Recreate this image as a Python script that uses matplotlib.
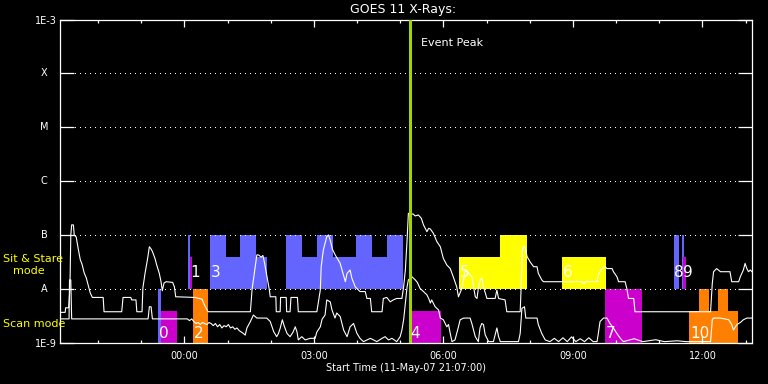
import numpy as np
import matplotlib
matplotlib.use("Agg")
from matplotlib import pyplot as plt
from matplotlib import ticker

# time axis is hours after the start time 11-May-07 21:07:00
start_label = 'Start Time (11-May-07 21:07:00)'
title = 'GOES 11 X-Rays:'
first_midnight = 3 - 7/60.0
clock_labels = ['00:00', '03:00', '06:00', '09:00', '12:00']

# long channel (upper white curve), W/m^2
long_t = np.array([0.00, 0.12, 0.13, 0.20, 0.23, 0.25, 0.27, 0.31, 0.33, 0.375,
                   0.42, 0.47, 0.51, 0.56, 0.61, 0.65, 0.70, 0.75, 1.00, 1.02,
                   1.43, 1.46, 1.64, 1.66, 1.76, 1.78, 1.90, 1.92, 1.97, 2.03,
                   2.07, 2.10, 2.14, 2.20, 2.24, 2.30, 2.34, 2.37, 2.41, 2.46,
                   2.61, 2.65, 2.68, 3.13, 3.29, 3.35, 3.43, 4.41, 4.45, 4.56,
                   4.60, 4.66, 4.70, 4.74, 4.80, 4.85, 4.87, 5.00, 5.01, 5.10,
                   5.11, 5.24, 5.25, 5.33, 5.35, 5.50, 5.52, 5.95, 6.03, 6.05,
                   6.10, 6.18, 6.22, 6.26, 6.31, 6.375, 6.49, 6.61, 6.65, 6.72,
                   6.76, 6.84, 6.95, 7.07, 7.11, 7.19, 7.22, 7.46, 7.49, 7.57,
                   7.65, 7.72, 7.80, 7.92, 7.96, 8.00, 8.04, 8.07, 8.11, 8.18,
                   8.23, 8.30, 8.37, 8.42, 8.50, 8.54, 8.58, 8.65, 8.73, 8.81,
                   8.88, 8.96, 9.04, 9.12, 9.19, 9.23, 9.31, 9.39, 9.46, 9.54,
                   9.62, 9.66, 9.69, 9.73, 9.77, 9.81, 9.89, 10.08, 10.12, 10.16,
                   10.31, 10.35, 10.66, 10.68, 10.71, 10.74, 10.78, 10.82, 10.89, 10.97,
                   11.05, 11.08, 11.16, 11.20, 12.09, 12.13, 12.17, 12.44, 12.47, 12.55,
                   12.63, 12.67, 12.79, 12.82, 12.90, 12.94, 13.09, 13.13, 13.17, 13.29,
                   13.32, 15.07, 15.11, 15.14, 15.21, 15.25, 15.30, 15.52, 15.56, 15.72,
                   15.76, 15.83, 15.87, 15.91, 15.95, 15.99, 16.03])
long_flux = np.array([3.7e-9, 3.7e-9, 4.5e-9, 4.5e-9, 1.0e-8, 1.0e-7, 1.55e-7, 1.55e-7, 1.0e-7, 9.3e-8,
                      5.7e-8, 3.5e-8, 2.9e-8, 2.0e-8, 1.6e-8, 1.2e-8, 8.5e-9, 7.0e-9, 7.0e-9, 3.8e-9,
                      3.8e-9, 7.0e-9, 7.0e-9, 6.3e-9, 6.3e-9, 3.8e-9, 3.8e-9, 1.05e-8, 1.96e-8, 3.7e-8,
                      6.1e-8, 5.7e-8, 5.0e-8, 3.7e-8, 2.8e-8, 1.96e-8, 1.37e-8, 9.3e-9, 1.3e-8, 1.37e-8,
                      1.33e-8, 1.1e-8, 7.2e-9, 7.0e-9, 6.5e-9, 5.0e-9, 3.8e-9, 3.8e-9, 1.0e-8, 4.3e-8,
                      4.3e-8, 3.9e-8, 4.2e-8, 3.0e-8, 1.6e-8, 9.6e-9, 7.2e-9, 7.2e-9, 3.8e-9, 3.8e-9,
                      7.0e-9, 7.0e-9, 3.8e-9, 3.8e-9, 7.0e-9, 7.0e-9, 3.8e-9, 3.8e-9, 9.6e-9, 2.6e-8,
                      5.3e-8, 9.4e-8, 1.01e-7, 8.1e-8, 5.5e-8, 4.3e-8, 3.0e-8, 1.37e-8, 1.96e-8, 2.26e-8,
                      1.6e-8, 1.1e-8, 9.0e-9, 9.0e-9, 6.7e-9, 6.7e-9, 3.8e-9, 3.8e-9, 6.7e-9, 7.0e-9,
                      5.8e-9, 6.3e-9, 6.7e-9, 6.7e-9, 1.1e-8, 2.26e-8, 8.1e-8, 2.55e-7, 2.47e-7, 2.47e-7,
                      2.27e-7, 2.37e-7, 2.06e-7, 1.55e-7, 1.16e-7, 1.34e-7, 1.3e-7, 1.08e-7, 7.6e-8, 6.1e-8,
                      3.7e-8, 2.8e-8, 2.4e-8, 1.6e-8, 1.1e-8, 7.2e-9, 1.03e-8, 2.26e-8, 2.0e-8, 1.7e-8,
                      7.2e-9, 6.7e-9, 1.03e-8, 1.48e-8, 1.6e-8, 1.1e-8, 6.7e-9, 6.7e-9, 9.6e-9, 6.7e-9,
                      6.3e-9, 3.8e-9, 3.8e-9, 9.6e-9, 5.3e-8, 6.3e-8, 5.7e-8, 4.0e-8, 3.2e-8, 2.6e-8,
                      2.6e-8, 1.96e-8, 1.48e-8, 1.37e-8, 1.37e-8, 1.25e-8, 1.37e-8, 1.37e-8, 1.83e-8, 2.4e-8,
                      2.6e-8, 2.4e-8, 2.4e-8, 2.1e-8, 1.7e-8, 1.37e-8, 1.37e-8, 1.03e-8, 6.7e-9, 6.7e-9,
                      3.8e-9, 3.8e-9, 1.28e-8, 2.1e-8, 2.4e-8, 2.26e-8, 2.1e-8, 2.1e-8, 1.37e-8, 1.37e-8,
                      1.7e-8, 2.26e-8, 3.0e-8, 2.4e-8, 2.1e-8, 2.26e-8, 2.1e-8])

# short channel (lower white curve)
short_t = np.array([0.00, 0.21, 0.22, 0.25, 0.27, 2.04, 2.07, 2.11, 2.14, 2.95,
                    3.00, 3.05, 3.10, 3.15, 3.20, 3.25, 3.30, 3.35, 3.40, 3.45,
                    3.50, 3.55, 3.60, 3.65, 3.70, 3.75, 3.80, 3.85, 3.90, 3.95,
                    4.00, 4.05, 4.10, 4.15, 4.20, 4.25, 4.29, 4.33, 4.41, 4.48,
                    4.52, 4.56, 4.79, 4.87, 4.95, 5.02, 5.06, 5.10, 5.15, 5.20,
                    5.26, 5.33, 5.40, 5.45, 5.49, 5.52, 5.60, 5.68, 5.79, 5.91,
                    5.95, 6.03, 6.07, 6.14, 6.18, 6.26, 6.30, 6.37, 6.41, 6.49,
                    6.57, 6.65, 6.72, 6.80, 6.88, 6.95, 7.03, 7.19, 7.34, 7.46,
                    7.53, 7.61, 7.69, 7.80, 7.88, 7.92, 7.96, 8.00, 8.04, 8.07,
                    8.15, 8.23, 8.28, 8.34, 8.42, 8.50, 8.54, 8.58, 8.61, 8.69,
                    8.77, 8.81, 8.88, 8.96, 9.00, 9.04, 9.08, 9.15, 9.23, 9.27,
                    9.35, 9.50, 9.54, 9.62, 9.69, 9.73, 9.77, 9.81, 9.85, 9.93,
                    10.04, 10.08, 10.12, 10.16, 10.20, 10.62, 10.66, 10.70, 10.76, 10.79,
                    11.05, 11.08, 11.16, 11.24, 11.35, 11.45, 11.55, 11.65, 11.75, 11.85,
                    11.95, 12.05, 12.15, 12.25, 12.35, 12.44, 12.47, 12.51, 12.59, 12.67,
                    12.74, 12.82, 12.90, 12.98, 13.05, 13.30, 13.50, 13.80, 14.00, 14.30,
                    14.50, 15.07, 15.11, 15.14, 15.30, 15.49, 15.56, 15.60, 15.68, 15.76,
                    15.83, 15.91, 16.03])
short_flux = np.array([2.8e-9, 2.8e-9, 1.48e-8, 1.48e-8, 2.8e-9, 2.8e-9, 4.7e-9, 4.7e-9, 2.8e-9, 2.8e-9,
                       2.6e-9, 2.8e-9, 2.5e-9, 2.3e-9, 2.4e-9, 2.2e-9, 2.4e-9, 2.3e-9, 2.2e-9, 2.4e-9,
                       2.3e-9, 2.1e-9, 2.3e-9, 2.0e-9, 2.2e-9, 1.9e-9, 2.1e-9, 2.0e-9, 2.2e-9, 1.9e-9,
                       2.0e-9, 1.8e-9, 1.9e-9, 1.7e-9, 1.6e-9, 1.5e-9, 1.4e-9, 1.9e-9, 2.5e-9, 3.3e-9,
                       3.1e-9, 2.9e-9, 2.9e-9, 2.5e-9, 1.62e-9, 1.31e-9, 1.5e-9, 1.87e-9, 2.7e-9, 2.0e-9,
                       1.5e-9, 1.31e-9, 1.6e-9, 2.0e-9, 1.6e-9, 1.14e-9, 1.31e-9, 1.14e-9, 1.22e-9, 1.22e-9,
                       1.6e-9, 2.0e-9, 2.75e-9, 3.3e-9, 6.3e-9, 5.8e-9, 4.1e-9, 2.9e-9, 3.6e-9, 3.1e-9,
                       1.74e-9, 1.31e-9, 2.0e-9, 2.3e-9, 1.5e-9, 1.22e-9, 1.06e-9, 1.22e-9, 1.06e-9, 1.22e-9,
                       1.31e-9, 1.14e-9, 1.22e-9, 1.06e-9, 1.31e-9, 1.74e-9, 2.7e-9, 5.5e-9, 1.1e-8, 1.48e-8,
                       1.7e-8, 1.48e-8, 1.32e-8, 1.03e-8, 9.0e-9, 7.8e-9, 6.7e-9, 5.5e-9, 6.3e-9, 4.7e-9,
                       4.1e-9, 2.9e-9, 2.7e-9, 2.0e-9, 2.2e-9, 1.5e-9, 1.06e-9, 1.14e-9, 2.0e-9, 2.7e-9,
                       2.9e-9, 2.9e-9, 2.3e-9, 1.31e-9, 1.06e-9, 1.9e-9, 2.3e-9, 2.2e-9, 1.41e-9, 1.06e-9,
                       1.06e-9, 1.41e-9, 1.9e-9, 1.31e-9, 1.06e-9, 1.06e-9, 1.5e-9, 4.4e-9, 4.7e-9, 2.9e-9,
                       2.9e-9, 2.2e-9, 1.5e-9, 1.14e-9, 1.06e-9, 1.22e-9, 1.06e-9, 1.25e-9, 1.06e-9, 1.3e-9,
                       1.06e-9, 1.2e-9, 1.06e-9, 1.25e-9, 1.06e-9, 1.06e-9, 1.5e-9, 2.5e-9, 2.9e-9, 2.9e-9,
                       2.3e-9, 1.9e-9, 1.5e-9, 1.22e-9, 1.06e-9, 1.2e-9, 1.06e-9, 1.15e-9, 1.06e-9, 1.1e-9,
                       1.06e-9, 1.06e-9, 2.7e-9, 2.9e-9, 2.9e-9, 2.7e-9, 2.2e-9, 1.74e-9, 2.2e-9, 2.4e-9,
                       2.7e-9, 2.9e-9, 2.9e-9])

# observing mode blocks
blue, magenta, orange, yellow = '#6464ff', '#cc00cc', '#ff8000', '#ffff00'
block_start = [2.275, 2.351, 2.970, 3.016, 3.085, 3.479, 3.850, 4.174, 4.545,
               5.240, 5.610, 5.954, 6.330, 6.860, 7.232, 7.580, 8.128, 9.247, 10.197,
               11.633, 12.629, 14.227, 14.406, 14.429, 14.576, 14.807, 15.040, 15.248, 15.479]
block_end = [2.351, 2.708, 3.016, 3.062, 3.433, 3.850, 4.174, 4.545, 4.793,
             5.610, 5.954, 6.330, 6.860, 7.232, 7.580, 7.949, 8.823, 10.197, 10.815,
             12.645, 13.479, 14.343, 14.452, 14.499, 14.807, 15.040, 15.248, 15.479, 15.703]
block_low = [1e-9, 1e-9, 1e-8, 1e-8, 1e-9, 1e-8, 1e-8, 1e-8, 1e-8,
             1e-8, 1e-8, 1e-8, 1e-8, 1e-8, 1e-8, 1e-8, 1e-9, 1e-8, 1e-8,
             1e-8, 1e-9, 1e-8, 1e-8, 1e-8, 1e-9, 1e-9, 1e-9, 1e-9, 1e-9]
block_high = [1e-8, 4e-9, 1e-7, 4e-8, 1e-8, 1e-7, 4e-8, 1e-7, 4e-8,
              1e-7, 4e-8, 1e-7, 4e-8, 1e-7, 4e-8, 1e-7, 4e-9, 4e-8, 1e-7,
              4e-8, 1e-8, 1e-7, 1e-7, 4e-8, 4e-9, 1e-8, 4e-9, 1e-8, 4e-9]
block_color = [blue, magenta, blue, magenta, orange, blue, blue, blue, blue,
               blue, blue, blue, blue, blue, blue, blue, magenta, yellow, yellow,
               yellow, magenta, blue, blue, magenta, orange, orange, orange, orange, orange]

block_names = ['0', '1', '2', '3', '4', '5', '6', '7', '8', '9', '10']
name_t = [2.30, 3.015, 3.097, 3.50, 8.11, 9.27, 11.65, 12.65, 14.23, 14.43, 14.60]
name_flux = [1.5e-9, 2.07e-8, 1.5e-9, 2.07e-8, 1.5e-9, 2.07e-8, 2.07e-8, 1.5e-9, 2.07e-8, 2.07e-8, 1.5e-9]

classes = ['X', 'M', 'C', 'B', 'A']
class_flux = [1e-4, 1e-5, 1e-6, 1e-7, 1e-8]
peak_t = 8.10


fig = plt.figure(figsize=(7.68, 3.84), dpi=100, facecolor='black')
ax = fig.add_axes([60/768., 41/384., 692/768., 323.5/384.])
ax.set_facecolor('black')
ax.set_yscale('log')
ax.set_xlim(0, 16.03)
ax.set_ylim(1e-9, 1e-3)

ax.bar(block_start, np.subtract(block_high, block_low), width=np.subtract(block_end, block_start),
       bottom=block_low, align='edge', color=block_color, linewidth=0, zorder=1)

# dotted class levels, crisp single pixel dots
for lev in class_flux:
    ax.axhline(lev, color='white', lw=0.72, ls=(0, (1, 5)), antialiased=False, zorder=2)

ax.plot(long_t, long_flux, color='white', lw=0.8, zorder=3)
ax.plot(short_t, short_flux, color='white', lw=0.8, zorder=3)

for txt, t, f in zip(block_names, name_t, name_flux):
    ax.text(t, f, txt, color='white', fontsize=11, ha='left', va='center', zorder=5)

ax.axvline(peak_t, color='#a4d400', lw=2.2, zorder=4)
ax.text(8.37, 3.7e-4, 'Event Peak', color='white', fontsize=8, ha='left', va='center')

# axes styling
for s in ax.spines.values():
    s.set_color('white')
    s.set_linewidth(0.9)
ax.set_yticks(10.0**np.arange(-9, -2))
ax.set_yticklabels(['1E-9', '', '', '', '', '', '1E-3'])
ax.yaxis.set_minor_locator(ticker.NullLocator())
ax.tick_params(axis='y', which='major', direction='in', length=10, width=0.9,
               colors='white', left=True, right=True, labelsize=7, pad=2)
ax.set_xticks([first_midnight + 3*k for k in range(5)])
ax.set_xticklabels(clock_labels)
ax.set_xticks([first_midnight - 2 + k for k in range(16)], minor=True)
ax.tick_params(axis='x', which='major', direction='in', length=5, width=0.9,
               top=True, bottom=True, colors='white', labelsize=7, pad=6)
ax.tick_params(axis='x', which='minor', direction='in', length=2.5, width=0.9,
               top=True, bottom=True, colors='white')

for c, lev in zip(classes, class_flux):
    ax.text(-0.0228, lev, c, transform=ax.get_yaxis_transform(), ha='center', va='center',
            color='white', fontsize=7)

fig.text(403/768., 1 - 10/384., title, color='white', fontsize=9, ha='center', va='center')
fig.text(406/768., 1 - 368/384., start_label, color='white', fontsize=7, ha='center', va='center')
fig.text(3/768., 1 - 259/384., 'Sit & Stare', color='#ffff00', fontsize=8, ha='left', va='center')
fig.text(13/768., 1 - 271/384., 'mode', color='#ffff00', fontsize=8, ha='left', va='center')
fig.text(3/768., 1 - 324/384., 'Scan mode', color='#ffff00', fontsize=8, ha='left', va='center')

fig.savefig('out.png', dpi=100, facecolor='black')
